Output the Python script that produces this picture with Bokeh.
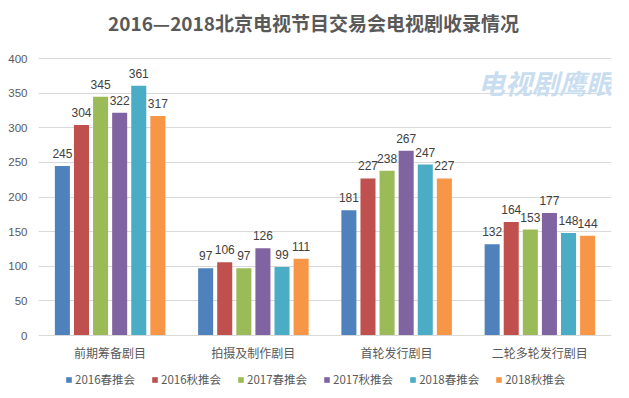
from bokeh.plotting import figure
from bokeh.models import FactorRange, Range1d, Legend, LegendItem, Label, ColumnDataSource, FixedTicker
from bokeh.core.properties import value
from bokeh.embed import file_html
from bokeh.resources import INLINE

categories = ["前期筹备剧目", "拍摄及制作剧目", "首轮发行剧目", "二轮多轮发行剧目"]
series = ["2016春推会", "2016秋推会", "2017春推会", "2017秋推会", "2018春推会", "2018秋推会"]
v2016s = [245, 97, 181, 132]
v2016a = [304, 106, 227, 164]
v2017s = [345, 97, 238, 153]
v2017a = [322, 126, 267, 177]
v2018s = [361, 99, 247, 148]
v2018a = [317, 111, 227, 144]
yticks = [0, 50, 100, 150, 200, 250, 300, 350, 400]
title_text = "2016—2018北京电视节目交易会电视剧收录情况"
watermark_text = "电视剧鹰眼"

values = [v2016s, v2016a, v2017s, v2017a, v2018s, v2018a]
colors = ["#4F81BD", "#C0504D", "#9BBB59", "#8064A2", "#4BACC6", "#F79646"]

CJK = "Noto Sans CJK SC"
NUM = "Liberation Sans"

p = figure(width=629, height=398, x_range=FactorRange(factors=categories, range_padding=0),
           y_range=Range1d(-91, 484), output_backend="svg", toolbar_location=None,
           min_border_left=38, min_border_right=18, min_border_top=0, min_border_bottom=0)
p.outline_line_color = None

pitch = 0.1333
items = []
for i, (s, vals, c) in enumerate(zip(series, values, colors)):
    off = (i - 2.5) * pitch
    src = ColumnDataSource(dict(x=[(cat, off) for cat in categories], top=vals,
                                lab=[str(v) for v in vals]))
    r = p.vbar(x="x", top="top", width=0.105, source=src, color=c, line_color=None)
    p.text(x="x", y="top", text="lab", source=src, text_align="center", text_baseline="bottom",
           y_offset=-8, text_font=value(NUM), text_font_size="12px", text_color="#404040")
    items.append(LegendItem(label=s, renderers=[r]))

p.yaxis.ticker = FixedTicker(ticks=yticks)
p.yaxis.axis_line_color = None
p.yaxis.major_tick_line_color = None
p.yaxis.minor_tick_line_color = None
p.yaxis.major_tick_out = 0
p.yaxis.major_tick_in = 0
p.yaxis.major_label_standoff = 11
p.yaxis.major_label_text_font = NUM
p.yaxis.major_label_text_font_size = "11.5px"
p.yaxis.major_label_text_color = "#595959"

p.xaxis.fixed_location = 0
p.xaxis.axis_line_color = "#D9D9D9"
p.xaxis.major_tick_line_color = None
p.xaxis.minor_tick_line_color = None
p.xaxis.major_tick_out = 0
p.xaxis.major_tick_in = 0
p.xaxis.major_label_standoff = 8
p.xaxis.major_label_text_font = CJK
p.xaxis.major_label_text_font_size = "12px"
p.xaxis.major_label_text_color = "#595959"

p.xgrid.grid_line_color = None
p.ygrid.grid_line_color = "#D9D9D9"
p.ygrid.ticker = FixedTicker(ticks=yticks[1:])

legend = Legend(items=items, orientation="horizontal", location=(27, 11),
                label_text_font=CJK, label_text_font_size="11.5px", label_text_color="#595959",
                glyph_width=7, glyph_height=7, spacing=16, label_standoff=3,
                label_height=14, border_line_color=None, padding=0, margin=0,
                background_fill_alpha=0)
p.add_layout(legend, "center")

p.add_layout(Label(x=275, y=376, x_units="screen", y_units="screen", text=title_text,
                   text_align="center", text_baseline="middle", text_font=CJK,
                   text_font_size="19px", text_font_style="bold", text_color="#595959"))
p.add_layout(Label(x=507, y=316, x_units="screen", y_units="screen", text=watermark_text,
                   text_align="center", text_baseline="middle", text_font=CJK,
                   text_font_size="27px", text_font_style="bold italic", text_color="#C9DDF0"))

open("out.html", "w").write(file_html(p, INLINE))
